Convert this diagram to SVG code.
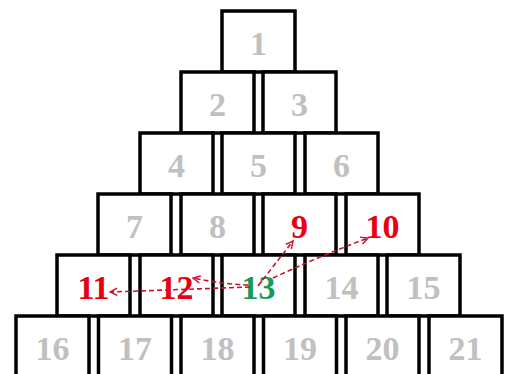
<svg xmlns="http://www.w3.org/2000/svg" width="510" height="374" viewBox="0 0 510 374">
<defs>
<style>
.b rect{fill:#fff;stroke:#000;stroke-width:3.5}
text{font-family:"Liberation Serif","Times New Roman",serif;font-weight:bold;font-size:34px;text-anchor:middle}
.g{fill:#c0c0c0}
.r{fill:#e60012}
.gr{fill:#1a9a55}
.c path{fill:none;stroke:#c8102e;stroke-width:1.6;stroke-dasharray:5 3}
</style>
<marker id="ah" viewBox="0 0 10 10" refX="9" refY="5" markerWidth="9" markerHeight="9" orient="auto" markerUnits="userSpaceOnUse">
<path d="M1,1 L9,5 L1,9" fill="none" stroke="#c8102e" stroke-width="1.6"/>
</marker>
</defs>
<rect width="510" height="374" fill="#fff"/>
<g class="b">
<g id="n1"><rect x="222" y="11" width="73" height="61"/><text class="g" x="258.5" y="55">1</text></g>
<g id="n2"><rect x="181" y="72" width="73" height="61"/><text class="g" x="217.5" y="116">2</text></g>
<g id="n3"><rect x="263" y="72" width="73" height="61"/><text class="g" x="299.5" y="116">3</text></g>
<g id="n4"><rect x="140" y="133" width="73" height="61"/><text class="g" x="176.5" y="177">4</text></g>
<g id="n5"><rect x="222" y="133" width="73" height="61"/><text class="g" x="258.5" y="177">5</text></g>
<g id="n6"><rect x="305" y="133" width="73" height="61"/><text class="g" x="341.5" y="177">6</text></g>
<g id="n7"><rect x="98" y="194" width="73" height="61"/><text class="g" x="134.5" y="238">7</text></g>
<g id="n8"><rect x="181" y="194" width="73" height="61"/><text class="g" x="217.5" y="238">8</text></g>
<g id="n9"><rect x="263" y="194" width="73" height="61"/><text class="r" x="299.5" y="238">9</text></g>
<g id="n10"><rect x="346" y="194" width="73" height="61"/><text class="r" x="382.5" y="238">10</text></g>
<g id="n11"><rect x="57" y="255" width="73" height="61"/><text class="r" x="93.5" y="299">11</text></g>
<g id="n12"><rect x="140" y="255" width="73" height="61"/><text class="r" x="176.5" y="299">12</text></g>
<g id="n13"><rect x="222" y="255" width="73" height="61"/><text class="gr" x="258.5" y="299">13</text></g>
<g id="n14"><rect x="305" y="255" width="73" height="61"/><text class="g" x="341.5" y="299">14</text></g>
<g id="n15"><rect x="387" y="255" width="73" height="61"/><text class="g" x="423.5" y="299">15</text></g>
<g id="n16"><rect x="16" y="316" width="73" height="61"/><text class="g" x="52.5" y="360">16</text></g>
<g id="n17"><rect x="98.5" y="316" width="73" height="61"/><text class="g" x="135" y="360">17</text></g>
<g id="n18"><rect x="181" y="316" width="73" height="61"/><text class="g" x="217.5" y="360">18</text></g>
<g id="n19"><rect x="263.5" y="316" width="73" height="61"/><text class="g" x="300" y="360">19</text></g>
<g id="n20"><rect x="346" y="316" width="73" height="61"/><text class="g" x="382.5" y="360">20</text></g>
<g id="n21"><rect x="429" y="316" width="73" height="61"/><text class="g" x="465.5" y="360">21</text></g>
</g>
<g class="c" id="connectors">
<path d="M250,287 L110,292" marker-end="url(#ah)"/>
<path d="M248,285 Q222,284 193,278" marker-end="url(#ah)"/>
<path d="M258,286 L293,241" marker-end="url(#ah)"/>
<path d="M273,278 Q320,256 368,238" marker-end="url(#ah)"/>
</g>
</svg>
